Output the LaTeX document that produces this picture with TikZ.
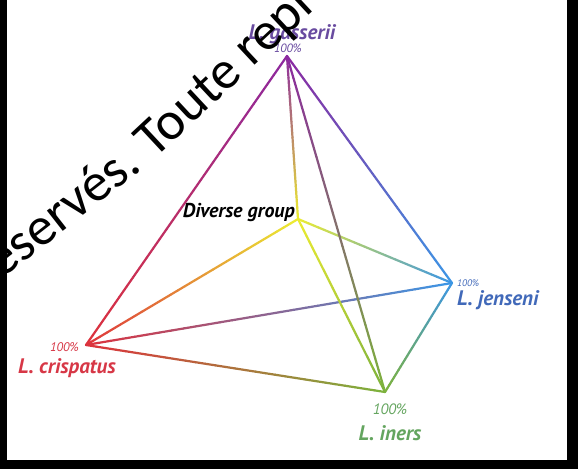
\documentclass[tikz,border=0pt]{standalone}
\usepackage{fontspec}
\setmainfont{PT Sans}
\newfontfamily\wmfont{Carlito}
\usetikzlibrary{calc}
\definecolor{cG}{RGB}{140,40,160}
\definecolor{cC}{RGB}{222,50,60}
\definecolor{cJ}{RGB}{60,150,230}
\definecolor{cI}{RGB}{125,178,60}
\definecolor{cD}{RGB}{236,236,50}
\definecolor{tG}{RGB}{105,75,160}
\definecolor{tC}{RGB}{215,55,70}
\definecolor{tJ}{RGB}{65,105,185}
\definecolor{tI}{RGB}{100,165,95}
\tikzset{
  gline/.style={line width=2.2pt,line cap=round},
  species/.style={font=\fontsize{21}{21}\selectfont\bfseries\itshape,inner sep=0pt},
  pct/.style={font=\fontsize{#1}{#1}\selectfont\itshape,inner sep=0pt},
  wm/.style={font=\wmfont\fontsize{54}{54}\selectfont,inner sep=0pt},
}
\newcommand{\gradedge}[4]{%
  \foreach \k in {0,...,29}{%
    \pgfmathsetmacro{\pa}{\k/30}%
    \pgfmathsetmacro{\pb}{(\k+1)/30}%
    \pgfmathtruncatemacro{\pc}{100-100*(\k+0.5)/30}%
    \draw[gline,draw=#3!\pc!#4] ($(#1)!\pa!(#2)$) -- ($(#1)!\pb!(#2)$);}}
\begin{document}
\begin{tikzpicture}[x=1pt,y=-1pt]
\useasboundingbox (0,0) rectangle (578,469);
\fill[black] (0,0) rectangle (578,469);
\fill[white] (7,0) rectangle (567,460);
\begin{scope}
\clip (7,0) rectangle (567,460);
% vertices
\coordinate (G) at (287,56);
\coordinate (D) at (298,219);
\coordinate (J) at (452,283);
\coordinate (C) at (86,345);
\coordinate (I) at (385,392);
% edges
\gradedge{G}{C}{cG}{cC}
\gradedge{C}{D}{cC}{cD}
\gradedge{C}{I}{cC}{cI}
\gradedge{C}{J}{cC}{cJ}
\gradedge{G}{D}{cG}{cD}
\gradedge{D}{J}{cD}{cJ}
\gradedge{D}{I}{cD}{cI}
\gradedge{G}{I}{cG}{cI}
\gradedge{G}{J}{cG}{cJ}
\gradedge{J}{I}{cJ}{cI}
% labels
\node[species,text=tG] (lg) at (292,34) {L. gasserii};
\node[pct=12,text=tG] (pg) at (288,48) {100\%};
\node[species,text=black,anchor=east,font=\fontsize{20}{20}\selectfont\bfseries\itshape] (ld) at (295,213) {Diverse group};
\node[pct=9.5,text=tJ,anchor=west] (pj) at (457,283) {100\%};
\node[species,text=tJ,anchor=west] (lj) at (457,300) {L. jenseni};
\node[pct=12.5,text=tC,anchor=east] (pc) at (79,347) {100\%};
\node[species,text=tC,anchor=west] (lc) at (18,368) {L. crispatus};
\node[pct=15,text=tI] (pi) at (390,409) {100\%};
\node[species,text=tI] (li) at (390,433) {L. iners};
% watermark (on top)
\node[wm,rotate=38,anchor=base east] (wm1) at (143,169) {réservés.};
\node[wm,rotate=43,anchor=base west] (wm2) at (154,160) {Toute reproduction};
\end{scope}
\end{tikzpicture}
\end{document}
